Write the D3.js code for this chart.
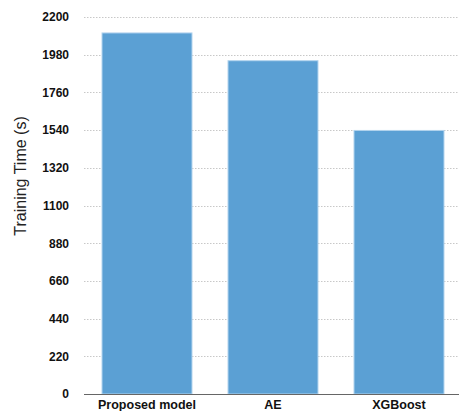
<!DOCTYPE html>
<html>
<head>
<meta charset="utf-8">
<script src="https://cdn.jsdelivr.net/npm/d3@7"></script>
<style>
  html, body { margin: 0; padding: 0; background: #fff; }
  svg { display: block; }
</style>
</head>
<body>
<svg id="chart" width="459" height="411"></svg>
<script>
const categories = ["Proposed model", "AE", "XGBoost"];
const values = [2107, 1945, 1538];
const yTicks = [0, 220, 440, 660, 880, 1100, 1320, 1540, 1760, 1980, 2200];
const yLabel = "Training Time (s)";

(function () {
const svg = d3.select("#chart");
const mLeft = 84, mRight = 462, mTop = 17, mBottom = 394;

const x = d3.scaleBand().domain(categories).range([mLeft, mRight])
  .paddingInner(0.2857).paddingOuter(0.1429);
const y = d3.scaleLinear().domain([0, 2200]).range([mBottom, mTop]);

// gridlines
svg.append("g").selectAll("line").data(yTicks.filter(d => d > 0)).join("line")
  .attr("x1", mLeft).attr("x2", 459)
  .attr("y1", d => Math.round(y(d)) + 0.5).attr("y2", d => Math.round(y(d)) + 0.5)
  .attr("stroke", "#c8c8c8").attr("stroke-width", 1).attr("stroke-dasharray", "1.5,1.5");

// bars
svg.append("g").selectAll("rect").data(values).join("rect")
  .attr("x", (d, i) => x(categories[i]))
  .attr("y", d => y(d))
  .attr("width", x.bandwidth())
  .attr("height", d => mBottom - y(d))
  .attr("fill", "#5ba0d4")
  .attr("stroke", "#b3d4ee").attr("stroke-width", 1);

// y axis (labels only)
const yAxis = d3.axisLeft(y).tickValues(yTicks).tickSize(0).tickPadding(0).tickFormat(d3.format("d"));
const gy = svg.append("g").attr("transform", "translate(69,0)").call(yAxis);
gy.select(".domain").remove();
gy.selectAll("text").attr("font-family", "Liberation Sans, Arial, sans-serif")
  .attr("font-size", 12).attr("font-weight", "bold").attr("fill", "#111");

// x axis
const xAxis = d3.axisBottom(x).tickSize(0).tickPadding(6);
const gx = svg.append("g").attr("transform", `translate(0,${mBottom})`).call(xAxis);
gx.select(".domain").remove();
gx.selectAll("text").attr("font-family", "Liberation Sans, Arial, sans-serif")
  .attr("font-size", 12.5).attr("font-weight", "bold").attr("fill", "#111");
svg.append("line").attr("x1", mLeft).attr("x2", 459)
  .attr("y1", mBottom + 0.5).attr("y2", mBottom + 0.5)
  .attr("stroke", "#666").attr("stroke-width", 1.2);

// y label
svg.append("text")
  .attr("transform", "translate(26,176) rotate(-90)")
  .attr("text-anchor", "middle")
  .attr("font-family", "Liberation Sans, Arial, sans-serif")
  .attr("font-size", 16).attr("fill", "#222")
  .text(yLabel);
})();
</script>
</body>
</html>
